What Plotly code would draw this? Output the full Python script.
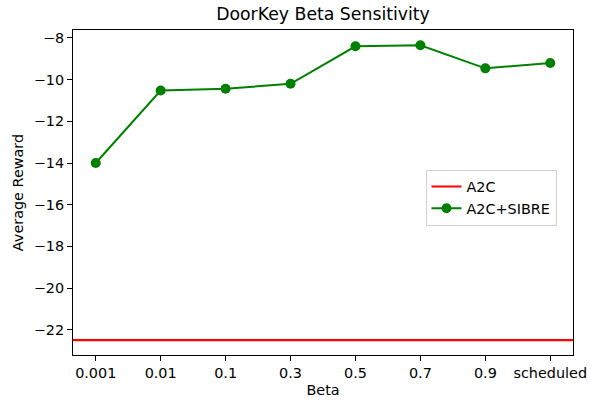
import plotly.graph_objects as go

categories = ["0.001", "0.01", "0.1", "0.3", "0.5", "0.7", "0.9", "scheduled"]
sibre_values = [-14.0, -10.52, -10.44, -10.2, -8.4, -8.35, -9.46, -9.2]
a2c_value = -22.5
y_ticks = [-22, -20, -18, -16, -14, -12, -10, -8]

FONT = "DejaVu Sans"
FS = 14.4
xs = list(range(len(categories)))

fig = go.Figure()
# A2C baseline: legend entry (line drawn as a full-width shape)
fig.add_trace(go.Scatter(x=[None], y=[None], mode="lines", name="A2C",
                         line=dict(color="red", width=2)))
fig.add_trace(go.Scatter(x=xs, y=sibre_values, mode="lines+markers", name="A2C+SIBRE",
                         line=dict(color="green", width=2),
                         marker=dict(color="green", size=10)))
fig.add_shape(type="line", xref="x domain", yref="y", x0=0, x1=1,
              y0=a2c_value, y1=a2c_value, line=dict(color="red", width=2.2))

fig.update_layout(
    width=590, height=404,
    margin=dict(l=73, r=17, t=30, b=49, autoexpand=False),
    paper_bgcolor="white", plot_bgcolor="white",
    font=dict(family=FONT, size=FS, color="black"),
    title=dict(text="DoorKey Beta Sensitivity", x=0.5, xref="paper", xanchor="center",
               y=1 - 14 / 404, yanchor="middle", automargin=False,
               font=dict(size=17.3, family=FONT, color="black")),
    showlegend=True,
    legend=dict(x=0.705, y=0.57, xanchor="left", yanchor="top",
                bgcolor="white", bordercolor="#d0d0d0", borderwidth=1,
                entrywidth=105, entrywidthmode="pixels",
                font=dict(size=FS, family=FONT), tracegroupgap=0),
)
fig.update_xaxes(range=[-0.35, 7.35], tickvals=xs, ticktext=categories,
                 showline=True, linecolor="black", linewidth=1, mirror=True,
                 ticks="outside", ticklen=5, tickcolor="black", showgrid=False,
                 zeroline=False, automargin=False,
                 title=dict(text="Beta", font=dict(size=FS), standoff=4),
                 tickfont=dict(size=FS))
fig.update_yaxes(range=[-23.21, -7.62], tickvals=y_ticks,
                 ticktext=["\u2212" + str(abs(v)) for v in y_ticks],
                 showline=True, linecolor="black", linewidth=1, mirror=True,
                 ticks="outside", ticklen=5, tickcolor="black", showgrid=False,
                 zeroline=False, automargin=False,
                 title=dict(text="Average Reward", font=dict(size=FS), standoff=6),
                 tickfont=dict(size=FS))

fig.write_html("out.html", config={"displayModeBar": False},
               post_script="document.body.style.margin='0';document.body.style.padding='0';")
